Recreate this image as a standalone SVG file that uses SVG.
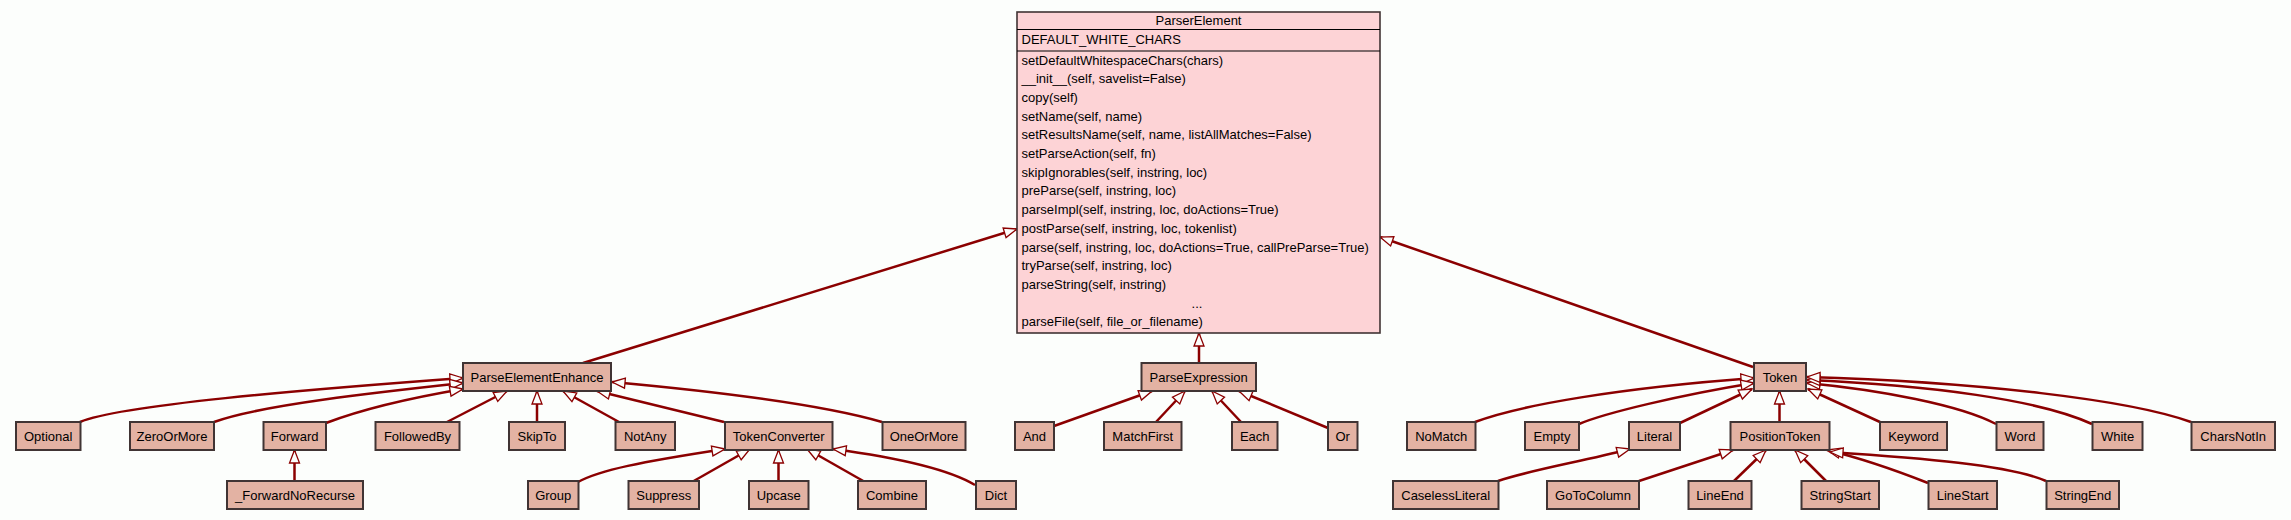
<svg xmlns="http://www.w3.org/2000/svg" width="2291" height="520" viewBox="0 0 2291 520">
<style>
.n rect{fill:#e3b2a3;stroke:#403434;stroke-width:2}
.pe rect{fill:#fdd3d6;stroke:#403434;stroke-width:1.6}
.pe line{stroke:#000;stroke-width:1.2}
text{font-family:"Liberation Sans",Arial,sans-serif;font-size:13px;fill:#000}
.n text,.c{text-anchor:middle}
.e path{fill:none;stroke:#8b0000;stroke-width:2.5;marker-end:url(#tri)}
</style>
<defs>
<marker id="tri" markerUnits="userSpaceOnUse" markerWidth="16" markerHeight="12" viewBox="-14 -6 16 12" refX="0" refY="0" orient="auto" overflow="visible">
<path d="M0,0 L-13,-5 L-13,5 Z" fill="#fcfefc" stroke="#8b0000" stroke-width="1.3"/>
</marker>
</defs>
<rect width="2291" height="520" fill="#fcfefc"/>
<g class="e" id="edges">
<path d="M583,363 L1017,229"/>
<path d="M1753,367 L1380,237"/>
<path d="M1199,363 L1199,333"/>
<path d="M80,422 C120,405 300,390 463,378"/>
<path d="M214,422 C260,405 380,392 463,383"/>
<path d="M326,423 C360,410 410,398 463,389"/>
<path d="M447,422 L507,391"/>
<path d="M537,422 L537,391"/>
<path d="M619,422 L563,391"/>
<path d="M724,422 L597,391"/>
<path d="M882,422 C820,404 700,390 612,382"/>
<path d="M294.5,481 L294.5,450"/>
<path d="M578,482 C600,470 640,462 725,449"/>
<path d="M692,482 L750,449"/>
<path d="M778.5,481 L778.5,450"/>
<path d="M865,482 L807,449"/>
<path d="M975,485 C950,470 900,458 833,449"/>
<path d="M1054,426 L1152,391"/>
<path d="M1156,422 L1185,391"/>
<path d="M1241,422 L1212,391"/>
<path d="M1328,428 L1239,391"/>
<path d="M1475,422 C1520,405 1620,388 1754,378"/>
<path d="M1579,424 C1605,413 1680,395 1754,383"/>
<path d="M1680,423 L1752,389"/>
<path d="M1779.5,422 L1779.5,391"/>
<path d="M1880,422 L1808,389"/>
<path d="M1996,424 C1960,405 1880,390 1807,383"/>
<path d="M2092,424 C2040,400 1930,385 1807,380"/>
<path d="M2191,422 C2130,400 1980,382 1807,377"/>
<path d="M1498,481 C1530,470 1580,462 1630,449"/>
<path d="M1639,481 L1733,450"/>
<path d="M1734,481 L1766,450"/>
<path d="M1826,481 L1795,450"/>
<path d="M1928,483 C1890,468 1860,458 1827,450"/>
<path d="M2046,481 C2010,465 1920,458 1830,452"/>
</g>
<g class="pe" id="ParserElement">
<rect x="1017" y="12" width="363" height="321"/>
<line x1="1017" y1="29.5" x2="1380" y2="29.5"/>
<line x1="1017" y1="51" x2="1380" y2="51"/>
<text class="c" x="1198.5" y="24.5">ParserElement</text>
<text x="1021.5" y="43.5">DEFAULT_WHITE_CHARS</text>
<text x="1021.5" y="64.5">setDefaultWhitespaceChars(chars)</text>
<text x="1021.5" y="83.2">__init__(self, savelist=False)</text>
<text x="1021.5" y="101.9">copy(self)</text>
<text x="1021.5" y="120.6">setName(self, name)</text>
<text x="1021.5" y="139.3">setResultsName(self, name, listAllMatches=False)</text>
<text x="1021.5" y="158">setParseAction(self, fn)</text>
<text x="1021.5" y="176.7">skipIgnorables(self, instring, loc)</text>
<text x="1021.5" y="195.4">preParse(self, instring, loc)</text>
<text x="1021.5" y="214.1">parseImpl(self, instring, loc, doActions=True)</text>
<text x="1021.5" y="232.8">postParse(self, instring, loc, tokenlist)</text>
<text x="1021.5" y="251.5">parse(self, instring, loc, doActions=True, callPreParse=True)</text>
<text x="1021.5" y="270.2">tryParse(self, instring, loc)</text>
<text x="1021.5" y="288.9">parseString(self, instring)</text>
<text class="c" x="1197" y="307.6">...</text>
<text x="1021.5" y="326.3">parseFile(self, file_or_filename)</text>
</g>
<g class="n" id="ParseElementEnhance"><rect x="463" y="363" width="148" height="28"/><text x="537" y="381.5">ParseElementEnhance</text></g>
<g class="n" id="ParseExpression"><rect x="1141.5" y="363" width="114.5" height="28"/><text x="1198.7" y="381.5">ParseExpression</text></g>
<g class="n" id="Token"><rect x="1754" y="363" width="52" height="28"/><text x="1780" y="381.5">Token</text></g>
<g class="n" id="Optional"><rect x="16" y="422" width="64.5" height="28"/><text x="48.2" y="440.5">Optional</text></g>
<g class="n" id="ZeroOrMore"><rect x="130" y="422" width="84" height="28"/><text x="172" y="440.5">ZeroOrMore</text></g>
<g class="n" id="Forward"><rect x="263.5" y="422" width="62.5" height="28"/><text x="294.7" y="440.5">Forward</text></g>
<g class="n" id="FollowedBy"><rect x="375.5" y="422" width="84" height="28"/><text x="417.5" y="440.5">FollowedBy</text></g>
<g class="n" id="SkipTo"><rect x="509" y="422" width="56" height="28"/><text x="537" y="440.5">SkipTo</text></g>
<g class="n" id="NotAny"><rect x="615.5" y="422" width="59.5" height="28"/><text x="645.2" y="440.5">NotAny</text></g>
<g class="n" id="TokenConverter"><rect x="725" y="422" width="107.5" height="28"/><text x="778.7" y="440.5">TokenConverter</text></g>
<g class="n" id="OneOrMore"><rect x="882.5" y="422" width="83" height="28"/><text x="924" y="440.5">OneOrMore</text></g>
<g class="n" id="And"><rect x="1015" y="422" width="39" height="28"/><text x="1034.5" y="440.5">And</text></g>
<g class="n" id="MatchFirst"><rect x="1104" y="422" width="77.5" height="28"/><text x="1142.7" y="440.5">MatchFirst</text></g>
<g class="n" id="Each"><rect x="1232" y="422" width="45.5" height="28"/><text x="1254.7" y="440.5">Each</text></g>
<g class="n" id="Or"><rect x="1328" y="422" width="29.5" height="28"/><text x="1342.7" y="440.5">Or</text></g>
<g class="n" id="NoMatch"><rect x="1407" y="422" width="68.5" height="28"/><text x="1441.2" y="440.5">NoMatch</text></g>
<g class="n" id="Empty"><rect x="1525" y="422" width="54" height="28"/><text x="1552" y="440.5">Empty</text></g>
<g class="n" id="Literal"><rect x="1629" y="422" width="51" height="28"/><text x="1654.5" y="440.5">Literal</text></g>
<g class="n" id="PositionToken"><rect x="1730.5" y="422" width="99" height="28"/><text x="1780" y="440.5">PositionToken</text></g>
<g class="n" id="Keyword"><rect x="1880" y="422" width="67" height="28"/><text x="1913.5" y="440.5">Keyword</text></g>
<g class="n" id="Word"><rect x="1996.5" y="422" width="47" height="28"/><text x="2020" y="440.5">Word</text></g>
<g class="n" id="White"><rect x="2092.5" y="422" width="50" height="28"/><text x="2117.5" y="440.5">White</text></g>
<g class="n" id="CharsNotIn"><rect x="2191.5" y="422" width="83.5" height="28"/><text x="2233.2" y="440.5">CharsNotIn</text></g>
<g class="n" id="_ForwardNoRecurse"><rect x="227" y="481" width="136" height="28"/><text x="295" y="499.5">_ForwardNoRecurse</text></g>
<g class="n" id="Group"><rect x="528" y="481" width="50.5" height="28"/><text x="553.2" y="499.5">Group</text></g>
<g class="n" id="Suppress"><rect x="628.5" y="481" width="70.5" height="28"/><text x="663.7" y="499.5">Suppress</text></g>
<g class="n" id="Upcase"><rect x="749" y="481" width="59.5" height="28"/><text x="778.7" y="499.5">Upcase</text></g>
<g class="n" id="Combine"><rect x="858" y="481" width="68" height="28"/><text x="892" y="499.5">Combine</text></g>
<g class="n" id="Dict"><rect x="976" y="481" width="40" height="28"/><text x="996" y="499.5">Dict</text></g>
<g class="n" id="CaselessLiteral"><rect x="1393" y="481" width="105.5" height="28"/><text x="1445.7" y="499.5">CaselessLiteral</text></g>
<g class="n" id="GoToColumn"><rect x="1547" y="481" width="92" height="28"/><text x="1593" y="499.5">GoToColumn</text></g>
<g class="n" id="LineEnd"><rect x="1688.5" y="481" width="63" height="28"/><text x="1720" y="499.5">LineEnd</text></g>
<g class="n" id="StringStart"><rect x="1801.5" y="481" width="77.5" height="28"/><text x="1840.2" y="499.5">StringStart</text></g>
<g class="n" id="LineStart"><rect x="1928.5" y="481" width="68.5" height="28"/><text x="1962.7" y="499.5">LineStart</text></g>
<g class="n" id="StringEnd"><rect x="2046.5" y="481" width="72.5" height="28"/><text x="2082.7" y="499.5">StringEnd</text></g>
</svg>
